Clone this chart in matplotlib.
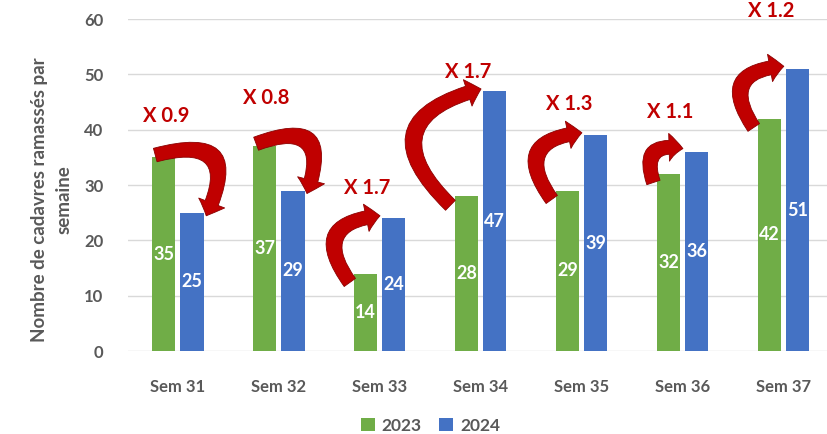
import numpy as np
import matplotlib.pyplot as plt
from matplotlib.patches import FancyArrowPatch

weeks = ['Sem 31', 'Sem 32', 'Sem 33', 'Sem 34', 'Sem 35', 'Sem 36', 'Sem 37']
v2023 = [35, 37, 14, 28, 29, 32, 42]
v2024 = [25, 29, 24, 47, 39, 36, 51]
ratios = ['X 0.9', 'X 0.8', 'X 1.7', 'X 1.7', 'X 1.3', 'X 1.1', 'X 1.2']
ratio_y = [42.5, 45.7, 29.5, 50.5, 44.7, 43.2, 61.5]
ylabel_lines = ['Nombre de cadavres ramassés par', 'semaine']

plt.rcParams['font.family'] = ['Lato', 'DejaVu Sans']
grey = '#595959'
green = '#70AD47'
blue = '#4472C4'
red = '#C00000'

fig = plt.figure(figsize=(8.28, 4.34), dpi=100)
ax = fig.add_axes([0.155, 0.191, 0.845, 0.765])

x = np.arange(len(weeks))
w = 0.23
b1 = ax.bar(x - 0.14, v2023, w, color=green, label='2023', zorder=2)
b2 = ax.bar(x + 0.14, v2024, w, color=blue, label='2024', zorder=2)

for bars, vals in [(b1, v2023), (b2, v2024)]:
    for r, v in zip(bars, vals):
        ax.text(r.get_x() + r.get_width() / 2, v / 2, str(v), ha='center', va='center',
                color='white', fontsize=13, fontweight='bold', zorder=4)

# curved arrows between the two years
for i in range(len(weeks)):
    a, b = v2023[i], v2024[i]
    if b < a:
        start = (i - 0.25, a + 0.3)
        end = (i + 0.27, b - 1.0)
        rad = -1.1
    else:
        start = (i - 0.28, a - 2.0)
        end = (i + 0.03, b + 0.5)
        rad = -0.9
    arr = FancyArrowPatch(start, end, connectionstyle=f'arc3,rad={rad}',
                          arrowstyle='simple,head_length=10,head_width=20,tail_width=10',
                          color=red, ec='#8B0000', lw=0.6, zorder=5, clip_on=False)
    ax.add_patch(arr)
    ax.text(i - 0.12, ratio_y[i], ratios[i], ha='center', va='center', color=red,
            fontsize=14.5, fontweight='bold', zorder=6, clip_on=False)

ax.set_ylim(0, 60)
ax.set_xlim(-0.49, 6.44)
ax.set_yticks(range(0, 61, 10))
ax.set_xticks(x)
ax.set_xticklabels(weeks)
ax.yaxis.grid(True, color='#D9D9D9', lw=1, zorder=0)
ax.set_axisbelow(True)
for s in ax.spines.values():
    s.set_visible(False)
ax.tick_params(length=0, colors=grey, labelsize=12)
ax.tick_params(axis='x', pad=20)
ax.tick_params(axis='y', pad=18)
for t in ax.get_xticklabels() + ax.get_yticklabels():
    t.set_fontweight('bold')

# y label in two centred lines
for xpos, line in zip([0.048, 0.077], ylabel_lines):
    fig.text(xpos, 0.54, line, color=grey, fontsize=13.5, fontweight='bold',
             rotation=90, ha='center', va='center')

leg = fig.legend(handles=[b1, b2], loc='lower center', bbox_to_anchor=(0.52, -0.035),
                 ncol=2, frameon=False, fontsize=12.5, handlelength=0.8, handleheight=0.8,
                 columnspacing=1.0, handletextpad=0.4)
for t in leg.get_texts():
    t.set_color(grey)
    t.set_fontweight('bold')

fig.savefig('out.png', dpi=100)
